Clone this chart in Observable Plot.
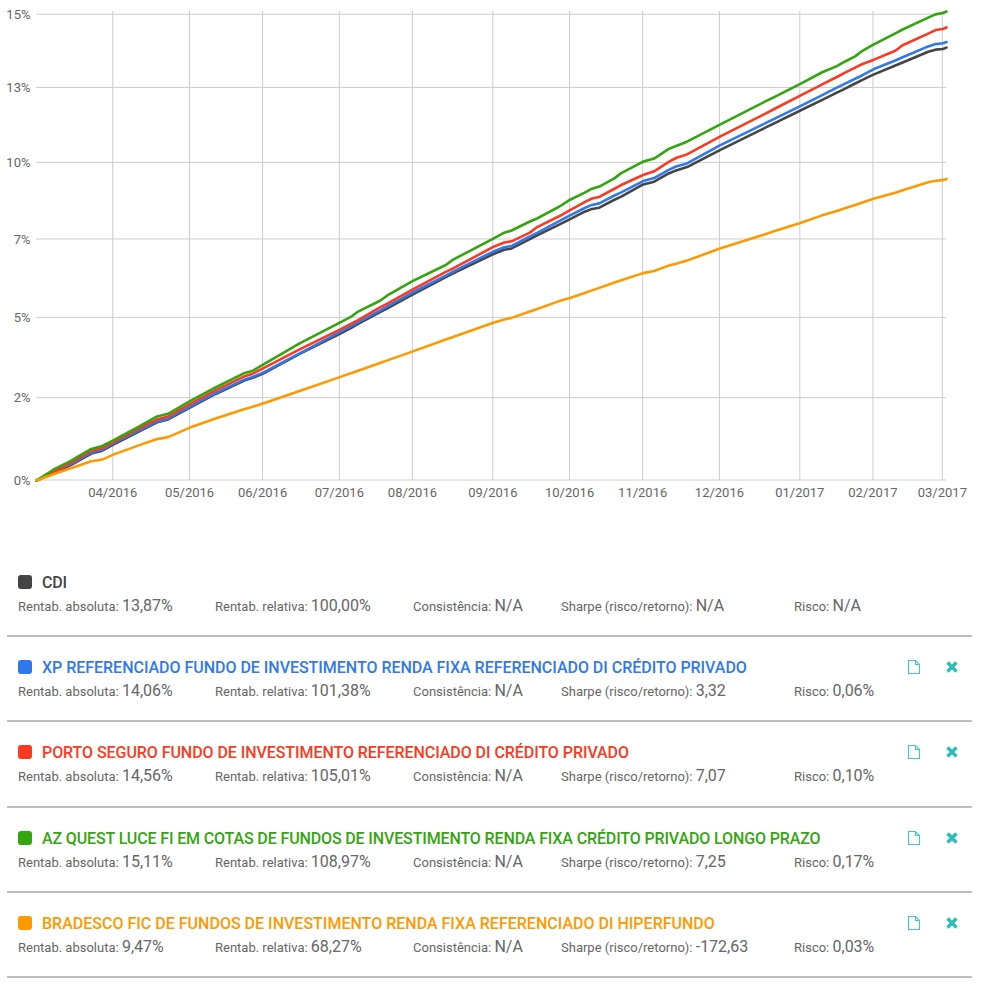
<!DOCTYPE html>
<html lang="pt-BR">
<head>
<meta charset="utf-8">
<title>Rentabilidade</title>
<script src="https://cdn.jsdelivr.net/npm/d3@7"></script>
<script src="https://cdn.jsdelivr.net/npm/@observablehq/plot@0.6"></script>
<style>
  html, body { margin: 0; padding: 0; background: #fff; overflow: hidden; }
  #page { position: relative; width: 985px; height: 984px; font-family: Roboto, sans-serif; color: #666; }
  #chart { position: absolute; left: 0; top: 0; }
  .row { position: absolute; left: 7px; width: 965px; height: 85px; }
  .rule { position: absolute; left: 7px; width: 965px; height: 2px; background: #bdbdbd; }
  .swatch { position: absolute; left: 11px; top: 2px; width: 14px; height: 14px; border-radius: 3px; }
  .name { position: absolute; left: 35px; top: 1px; line-height: 18px; font-size: 16px; font-weight: 500; white-space: nowrap; }
  .stat { position: absolute; top: 24px; line-height: 18px; font-size: 13px; white-space: nowrap; }
  .stat b { font-weight: 400; font-size: 16px; }
  .icon { position: absolute; top: 1px; }
</style>
</head>
<body>
<div id="page"><div id="chart"></div></div>
<script>
// trading days since the start of the period, x axis is ordinal by session
const days = [0,5,9,15,18,21,28,33,36,42,49,57,59,62,72,83,86,88,94,96,103,112,114,125,128,130,135,137,143,146,150,152,154,158,160,166,169,173,175,178,187,200,202,209,215,219,221,224,226,229,235,237,244,246,248,249];

const cdi = [0,0.24,0.44,0.81,0.90,1.08,1.48,1.76,1.85,2.21,2.63,3.05,3.12,3.26,3.87,4.50,4.68,4.81,5.18,5.30,5.74,6.29,6.41,7.03,7.17,7.21,7.51,7.63,7.98,8.16,8.40,8.49,8.53,8.78,8.89,9.29,9.38,9.65,9.75,9.86,10.42,11.20,11.32,11.74,12.10,12.34,12.46,12.65,12.77,12.95,13.26,13.36,13.73,13.80,13.82,13.87];
const xp = [0,0.27,0.47,0.84,0.93,1.12,1.51,1.78,1.88,2.24,2.66,3.08,3.15,3.29,3.89,4.55,4.73,4.86,5.23,5.36,5.81,6.34,6.47,7.11,7.25,7.29,7.60,7.71,8.09,8.28,8.52,8.62,8.67,8.92,9.03,9.40,9.50,9.77,9.88,9.98,10.58,11.35,11.47,11.89,12.26,12.51,12.63,12.81,12.93,13.13,13.43,13.54,13.91,13.99,14.02,14.06];
const porto = [0,0.27,0.51,0.89,0.98,1.16,1.57,1.85,1.94,2.32,2.74,3.18,3.25,3.42,4.01,4.63,4.81,4.93,5.33,5.45,5.90,6.46,6.57,7.26,7.40,7.44,7.72,7.90,8.25,8.45,8.71,8.83,8.88,9.14,9.27,9.60,9.72,10.03,10.16,10.28,10.87,11.67,11.80,12.24,12.62,12.87,13.00,13.19,13.31,13.45,13.76,13.95,14.35,14.47,14.51,14.56];
const azQuest = [0,0.35,0.57,0.95,1.04,1.21,1.63,1.94,2.02,2.41,2.83,3.28,3.34,3.54,4.20,4.85,5.03,5.20,5.54,5.71,6.17,6.68,6.85,7.53,7.72,7.79,8.08,8.18,8.56,8.79,9.02,9.15,9.22,9.48,9.66,10.04,10.14,10.46,10.56,10.70,11.27,12.08,12.20,12.64,13.03,13.24,13.38,13.57,13.76,13.97,14.36,14.49,14.90,15.01,15.06,15.11];
const bradesco = [0,0.20,0.35,0.58,0.63,0.78,1.06,1.25,1.31,1.60,1.88,2.17,2.23,2.34,2.72,3.15,3.27,3.35,3.59,3.67,3.95,4.32,4.40,4.85,4.95,5.00,5.20,5.28,5.53,5.63,5.79,5.87,5.95,6.11,6.19,6.42,6.49,6.66,6.72,6.82,7.21,7.69,7.77,8.03,8.28,8.42,8.50,8.62,8.70,8.82,9.02,9.10,9.36,9.41,9.43,9.47];

const names = [
  "CDI",
  "XP REFERENCIADO FUNDO DE INVESTIMENTO RENDA FIXA REFERENCIADO DI CRÉDITO PRIVADO",
  "PORTO SEGURO FUNDO DE INVESTIMENTO REFERENCIADO DI CRÉDITO PRIVADO",
  "AZ QUEST LUCE FI EM COTAS DE FUNDOS DE INVESTIMENTO RENDA FIXA CRÉDITO PRIVADO LONGO PRAZO",
  "BRADESCO FIC DE FUNDOS DE INVESTIMENTO RENDA FIXA REFERENCIADO DI HIPERFUNDO"
];
const colors = ["#444444", "#3079ed", "#fb3a22", "#33a50f", "#ff9900"];
const series = [cdi, xp, porto, azQuest, bradesco];

const absolute = ["13,87%", "14,06%", "14,56%", "15,11%", "9,47%"];
const relative = ["100,00%", "101,38%", "105,01%", "108,97%", "68,27%"];
const consistency = ["N/A", "N/A", "N/A", "N/A", "N/A"];
const sharpe = ["N/A", "3,32", "7,07", "7,25", "-172,63"];
const risk = ["N/A", "0,06%", "0,10%", "0,17%", "0,03%"];

const monthDays = [21,42,62,83,103,125,146,166,187,209,229,248];
const monthLabels = ["04/2016","05/2016","06/2016","07/2016","08/2016","09/2016","10/2016","11/2016","12/2016","01/2017","02/2017","03/2017"];
// the axis is compounded: ticks every 2,5% on a log scale, labels rounded by the source
const yTicks = [0, 2.5, 5, 7.5, 10, 12.5, 15];
const yLabels = ["0%", "2%", "5%", "7%", "10%", "13%", "15%"];

const rows = names.flatMap((name, i) => days.map((day, j) => ({ name, day, value: series[i][j] })));

const plot = Plot.plot({
  width: 985,
  height: 510,
  marginTop: 11,
  marginBottom: 30,
  marginLeft: 36,
  marginRight: 39,
  style: { fontFamily: "Roboto, sans-serif", fontSize: "13px", background: "#fff" },
  x: { domain: [0, 249] },
  y: { type: "log", domain: [100, 115.11] },
  color: { domain: names, range: colors },
  marks: [
    Plot.gridX(monthDays, { stroke: "#ccc", strokeOpacity: 1, dx: -0.5 }),
    Plot.gridY(yTicks.map(d => 100 + d), { stroke: "#ccc", strokeOpacity: 1, dy: -0.5 }),
    Plot.axisY({
      ticks: yTicks.map(d => 100 + d),
      tickFormat: d => yLabels[yTicks.indexOf(d - 100)],
      tickSize: 0,
      tickPadding: 6,
      label: null,
      fontSize: 13,
      fill: "#666"
    }),
    Plot.axisX({
      ticks: monthDays,
      tickFormat: d => monthLabels[monthDays.indexOf(d)],
      tickSize: 0,
      tickPadding: 7,
      label: null,
      fontSize: 13,
      fill: "#666",
      dx: -0.5
    }),
    Plot.line(rows, {
      x: "day",
      y: d => 100 + d.value,
      z: "name",
      stroke: "name",
      strokeWidth: 2.6,
      strokeLinejoin: "round"
    })
  ]
});
document.getElementById("chart").appendChild(plot);

// fund list below the chart
const rowTops = [573, 658, 743, 829, 914];
const ruleTops = [635, 720, 806, 891, 976];
const statLeft = [11, 208, 406, 554, 787];
// Roboto runs a little wider than the original face on the long names
const nameSpacing = [-0.2, -0.025, -0.06, -0.13, 0.01];
const page = d3.select("#page");

names.forEach((name, i) => {
  const row = page.append("div").attr("class", "row").style("top", rowTops[i] + "px");
  row.append("div").attr("class", "swatch").style("background", colors[i]);
  row.append("div").attr("class", "name")
    .style("color", colors[i])
    .style("letter-spacing", nameSpacing[i] + "px")
    .text(name);

  const stats = [
    ["Rentab. absoluta: ", absolute[i]],
    ["Rentab. relativa: ", relative[i]],
    ["Consistência: ", consistency[i]],
    ["Sharpe (risco/retorno): ", sharpe[i]],
    ["Risco: ", risk[i]]
  ];
  stats.forEach(([label, value], k) => {
    const s = row.append("div").attr("class", "stat").style("left", statLeft[k] + "px");
    s.append("span").text(label);
    s.append("b").text(value);
  });

  // CDI is the benchmark, it has no document or remove icons
  if (i > 0) {
    const file = row.append("svg").attr("class", "icon")
      .attr("width", 14).attr("height", 16).style("left", "900px");
    file.append("path").attr("d", "M1.5 1.5h7l4 4v9h-11zM8.5 1.5v4h4")
      .attr("fill", "none").attr("stroke", "#4cc4c4").attr("stroke-width", 1.2);
    const cross = row.append("svg").attr("class", "icon")
      .attr("width", 14).attr("height", 16).style("left", "938px");
    cross.append("path").attr("d", "M2.5 3.5l9 9M11.5 3.5l-9 9")
      .attr("fill", "none").attr("stroke", "#2bbcbc").attr("stroke-width", 3.4);
  }
  page.append("div").attr("class", "rule").style("top", ruleTops[i] + "px");
});
</script>
</body>
</html>
